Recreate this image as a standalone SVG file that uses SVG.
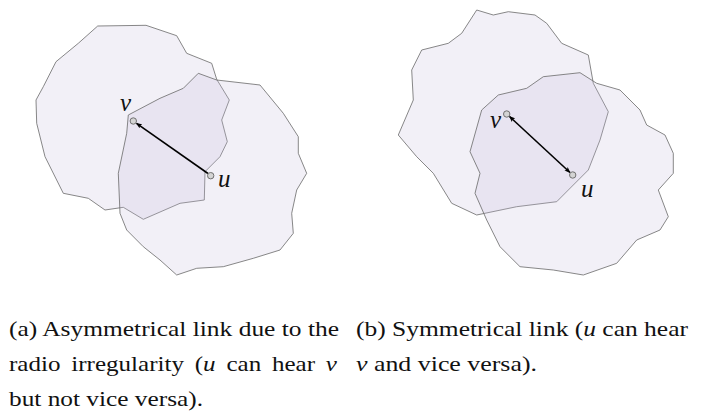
<svg xmlns="http://www.w3.org/2000/svg" width="702" height="420" viewBox="0 0 702 420">
<style>
.reg{fill:rgb(200,190,220);fill-opacity:0.23;stroke:#6a6a6a;stroke-width:0.8;stroke-linejoin:round}
.nd{fill:#d4d4d4;stroke:#707070;stroke-width:1}
.lbl{font-family:"Liberation Serif",serif;font-style:italic;font-size:25px;fill:#111}
.cap{font-family:"Liberation Serif",serif;font-size:22px;fill:#111}
.it{font-style:italic}
.lnk{stroke:#000;stroke-width:1.6;fill:none}
</style>
<defs>
<marker id="ah" viewBox="0 0 10 10" refX="9" refY="5" markerWidth="6" markerHeight="6" orient="auto-start-reverse" markerUnits="userSpaceOnUse">
<path d="M0,1 L10,5 L0,9 L2,5 Z" fill="#000"/>
</marker>
</defs>
<g id="range-a-v">
<polygon class="reg" points="97.7,26 146,25.3 176.7,35.7 186.7,53.3 211.7,63.3 216.7,79.3 229.3,100 221.7,120 227.3,141.7 220,156.7 205,171.7 204.3,200 180,203.3 143.3,219.3 123.3,207.3 105,210 88.3,198.3 63.3,193.3 45,156.7 36.7,123.3 36,100 43.3,86.7 56,61.7 78.3,43.3"/>
</g>
<g id="range-a-u">
<polygon class="reg" points="128.3,115 160,98.3 183.3,88.3 198.3,73.3 216.7,80 260,85 283.3,113.3 298.3,136.7 298.3,153.3 306.7,173.3 296.7,190 291.7,213.3 293.3,233.3 280,250 253.3,258.3 223.3,266.7 196.7,268.3 176.7,275 160,260 143.3,246.7 126.7,230 120,213.3 118.3,173.3 126.7,133.3"/>
</g>
<g id="range-b-v">
<polygon class="reg" points="476.7,10 493.3,15 508.3,11.7 535,15 546.7,23.3 561.7,43.3 588.3,55 593.3,83.3 608.3,111.7 600,140 588.3,170 573.3,185 556.7,201.7 516.7,206.7 476.7,215 451.7,203.3 433.3,173.3 416.7,156.7 398.3,135 413.3,100 411.7,70 421.7,50 448.3,43.3 461.7,33.3"/>
</g>
<g id="range-b-u">
<polygon class="reg" points="498.3,95 526.7,88.3 543.3,76.7 580,72.7 596.7,83.3 620,90 640,110 646.7,125 665,135 673.3,153.3 673.3,173.3 658.3,190 668.3,216.7 660,230 636.7,240 616.7,263.3 583.3,275 553.3,270 520,266.7 500,246.7 486.7,220 475,193.3 480,173.3 470,151.7 481.7,110"/>
</g>
<g id="connectors">
<line class="lnk" x1="208" y1="173.5" x2="136.5" y2="123.3" marker-end="url(#ah)"/>
<line class="lnk" x1="509.5" y1="116.5" x2="570" y2="172.5" marker-start="url(#ah)" marker-end="url(#ah)"/>
</g>
<g id="node-a-v"><circle class="nd" cx="133.3" cy="121" r="3.2"/><text class="lbl" x="120" y="111">v</text></g>
<g id="node-a-u"><circle class="nd" cx="210.7" cy="175.7" r="3.2"/><text class="lbl" x="218" y="187">u</text></g>
<g id="node-b-v"><circle class="nd" cx="506.7" cy="114" r="3.2"/><text class="lbl" x="490" y="128">v</text></g>
<g id="node-b-u"><circle class="nd" cx="572.7" cy="175" r="3.2"/><text class="lbl" x="581" y="197">u</text></g>
<g id="captions">
<text class="cap" x="9" y="336" textLength="330" lengthAdjust="spacingAndGlyphs">(a) Asymmetrical link due to the</text>
<text class="cap" x="9" y="371" textLength="328" lengthAdjust="spacingAndGlyphs" word-spacing="4">radio irregularity (<tspan class="it">u</tspan> can hear <tspan class="it">v</tspan></text>
<text class="cap" x="9" y="406" textLength="194" lengthAdjust="spacingAndGlyphs">but not vice versa).</text>
<text class="cap" x="356" y="336" textLength="332" lengthAdjust="spacingAndGlyphs">(b) Symmetrical link (<tspan class="it">u</tspan> can hear</text>
<text class="cap" x="356" y="371" textLength="181" lengthAdjust="spacingAndGlyphs"><tspan class="it">v</tspan> and vice versa).</text>
</g>
</svg>
